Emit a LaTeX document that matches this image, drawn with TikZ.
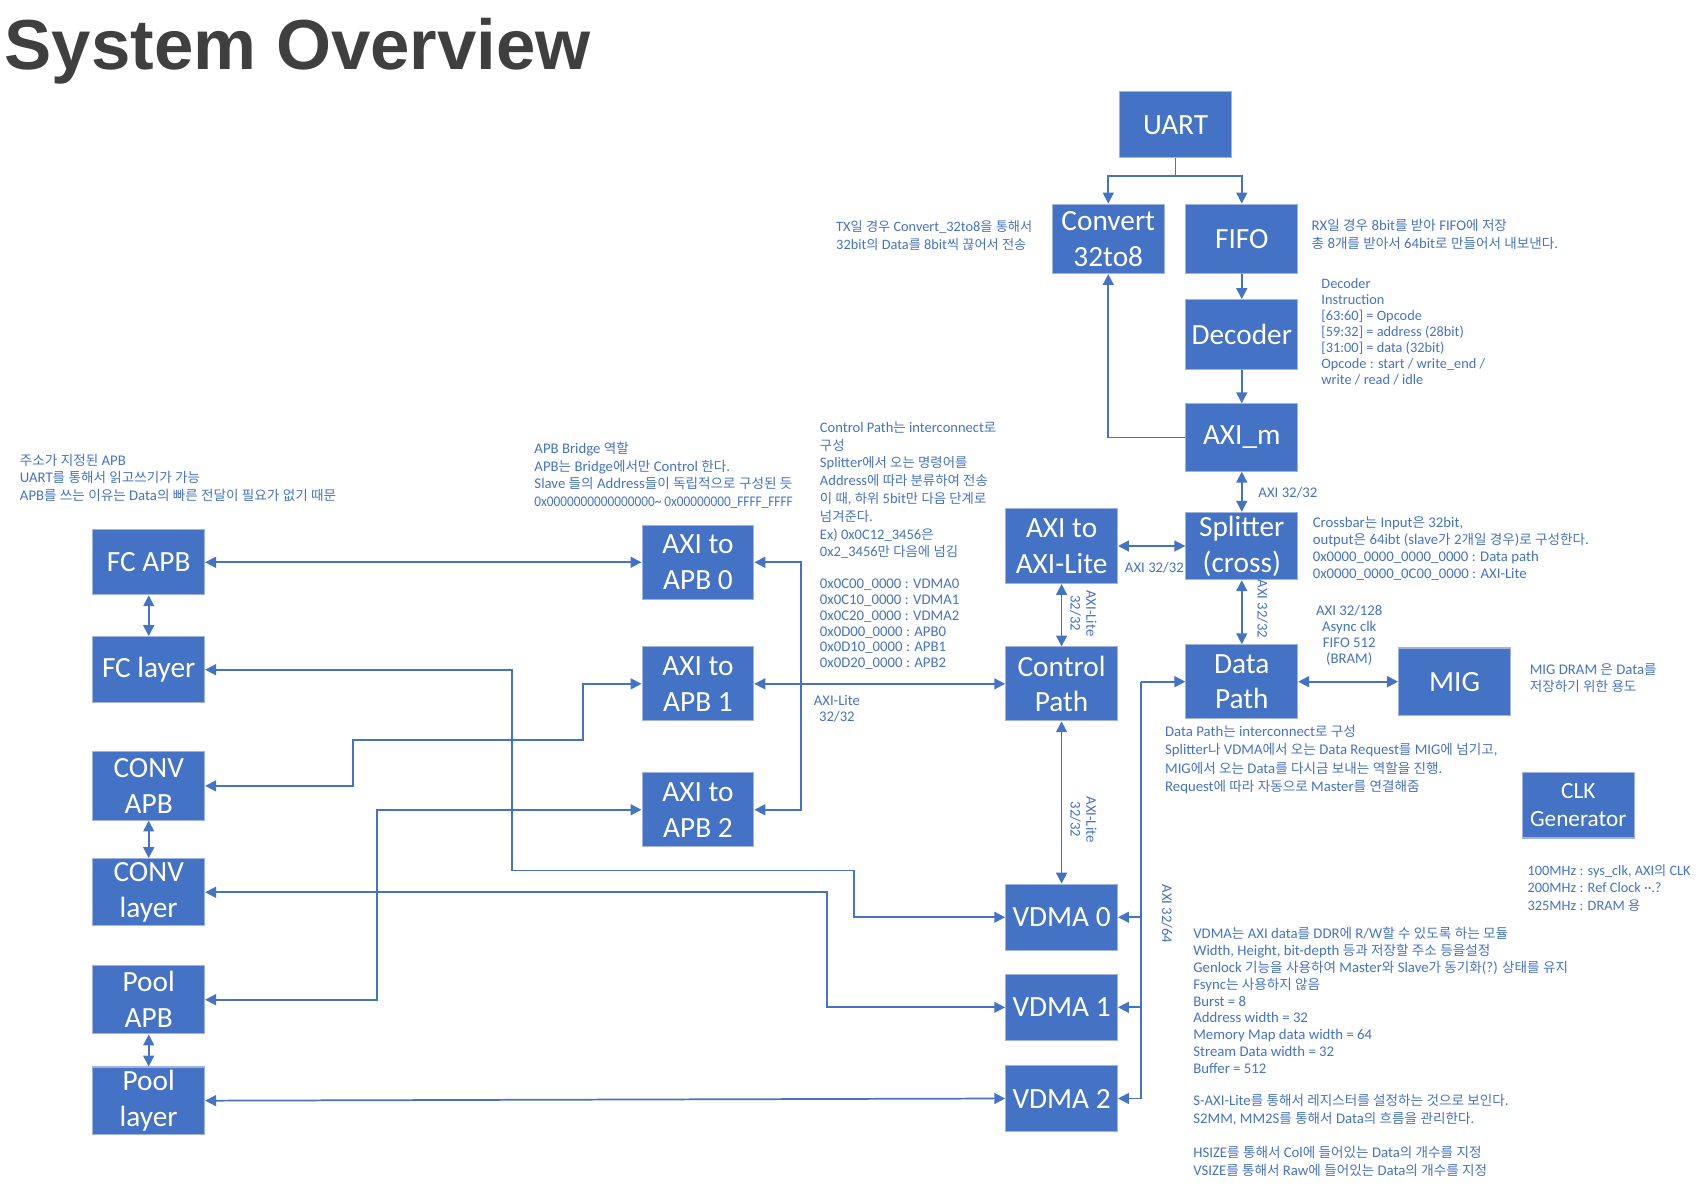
\documentclass[tikz,border=0pt]{standalone}
\usepackage{fontspec}
\setmainfont{Carlito}
\newfontfamily\kr[Scale=0.92]{Noto Sans CJK KR}
\newfontfamily\ttlfont{Liberation Sans}
\usetikzlibrary{arrows.meta}
\XeTeXinterchartokenstate=1
\newXeTeXintercharclass\HangulClass
\count255="AC00
\loop \XeTeXcharclass\count255=\HangulClass \ifnum\count255<"D7A3 \advance\count255 by 1 \repeat
\count255="3131
\loop \XeTeXcharclass\count255=\HangulClass \ifnum\count255<"318E \advance\count255 by 1 \repeat
\XeTeXinterchartoks 0 \HangulClass = {\begingroup\kr}
\XeTeXinterchartoks 4095 \HangulClass = {\begingroup\kr}
\XeTeXinterchartoks \HangulClass 0 = {\endgroup}
\XeTeXinterchartoks \HangulClass 4095 = {\endgroup}
\definecolor{ob}{HTML}{4472C4}
\definecolor{bd}{HTML}{9FB3DD}
\definecolor{ttl}{HTML}{3F3F3F}
\begin{document}
\begin{tikzpicture}[x=0.5pt,y=-0.5pt,
  blk/.style={fill=ob, draw=bd, line width=0.5pt, text=white,
    font=\fontsize{13.5}{16.5}\selectfont, align=center, inner sep=0pt,
    minimum width=51.5pt},
  conn/.style={draw=ob, line width=0.8pt},
  arr/.style={-{Triangle[width=5pt,length=5pt]}},
  darr/.style={{Triangle[width=5pt,length=5pt]}-{Triangle[width=5pt,length=5pt]}},
  note/.style={text=ob, font=\fontsize{6.8}{7.7}\selectfont, align=left,
    inner sep=0pt, anchor=north west},
  lbl/.style={text=ob, font=\fontsize{6.8}{7.3}\selectfont, align=center, inner sep=0pt}]
\useasboundingbox (0,0) rectangle (1568,1100);

\node[anchor=base west, inner sep=0pt, text=ttl, font=\ttlfont\bfseries\fontsize{32.6}{36}\selectfont] (title) at (4,64) {System Overview};

% blocks
\node[blk, minimum height=30.5pt] (uart) at (1083,115) {UART};
\node[blk, minimum height=32pt] (conv) at (1021,220) {Convert\\32to8};
\node[blk, minimum height=32pt] (fifo) at (1144,220) {FIFO};
\node[blk, minimum height=32pt] (dec) at (1144,308) {Decoder};
\node[blk, minimum height=31pt] (axim) at (1144,403) {AXI\_m};
\node[blk, minimum height=31pt] (spl) at (1144,503) {Splitter\\(cross)};
\node[blk, minimum height=34.5pt] (a2l) at (978,503) {AXI to\\AXI-Lite};
\node[blk, minimum height=34pt] (cp) at (978,630) {Control\\Path};
\node[blk, minimum height=34pt] (dp) at (1144,628) {Data\\Path};
\node[blk, minimum height=31pt] (mig) at (1340,628) {MIG};
\node[blk, minimum height=30pt, font=\fontsize{10.7}{13}\selectfont] (clk) at (1454,742) {CLK\\Generator};
\node[blk, minimum height=30.5pt] (v0) at (978,845) {VDMA 0};
\node[blk, minimum height=30.5pt] (v1) at (978,928) {VDMA 1};
\node[blk, minimum height=30.5pt] (v2) at (978,1012) {VDMA 2};
\node[blk, minimum height=34pt] (apb0) at (643,518) {AXI to\\APB 0};
\node[blk, minimum height=34pt] (apb1) at (643,630) {AXI to\\APB 1};
\node[blk, minimum height=34pt] (apb2) at (643,746) {AXI to\\APB 2};
\node[blk, minimum height=30pt] (fca) at (137,518) {FC APB};
\node[blk, minimum height=30.5pt] (fcl) at (137,617) {FC layer};
\node[blk, minimum height=31.5pt] (cva) at (137,724) {CONV\\APB};
\node[blk, minimum height=31pt] (cvl) at (137,822) {CONV\\layer};
\node[blk, minimum height=31.5pt] (pla) at (137,921) {Pool\\APB};
\node[blk, minimum height=31pt] (pll) at (137,1014) {Pool\\layer};

% connectors top
\coordinate (usplit) at (1083,162);
\draw[conn] (uart.south) -- (usplit);
\draw[conn,arr] (usplit) -| (conv.north);
\draw[conn,arr] (usplit) -| (fifo.north);
\draw[conn,arr] (fifo.south) -- (dec.north);
\draw[conn,arr] (dec.south) -- (axim.north);
\draw[conn,arr] (axim.west) -| (conv.south);
\draw[conn,darr] (axim.south) -- (spl.north);
\draw[conn,darr] (a2l.east) -- (spl.west);
\draw[conn,darr] (a2l.south) -- (cp.north);
\draw[conn,darr] (spl.south) -- (dp.north);
\draw[conn,darr] (dp.east) -- (mig.west);
\draw[conn,darr] (cp.south) -- (v0.north);

% APB bus
\coordinate (bus) at (738,630);
\draw[conn,darr] (apb1.east) -- (cp.west);
\draw[conn,arr] (bus) |- (apb0.east);
\draw[conn,arr] (bus) |- (apb2.east);

% left side
\draw[conn,darr] (fca.east) -- (apb0.west);
\draw[conn,darr] (fca.south) -- (fcl.north);
\draw[conn,darr] (cva.south) -- (cvl.north);
\draw[conn,darr] (pla.south) -- (pll.north);
\draw[conn,darr] (cva.east) -| (325,682) -| (537,630) -- (apb1.west);
\draw[conn,darr] (pla.east) -| (347,746) -- (apb2.west);
\draw[conn,darr] (fcl.east) -| (472,802) -| (787,845) -- (v0.west);
\draw[conn,darr] (cvl.east) -| (762,928) -- (v1.west);
\draw[conn,darr] (pll.east) -- (v2.west);

% VDMA bus to data path
\coordinate (vtop) at (1051,628);
\draw[conn,arr] (vtop) -- (dp.west);
\draw[conn,arr] (vtop) |- (v0.east);
\draw[conn,arr] (vtop) |- (v1.east);
\draw[conn,arr] (vtop) |- (v2.east);

% notes
\node[note, font=\fontsize{6.6}{8.4}\selectfont] (ntx) at (770,203) {TX일 경우 Convert\_32to8을 통해서\\32bit의 Data를 8bit씩 끊어서 전송};
\node[note, font=\fontsize{6.8}{8}\selectfont] (nrx) at (1208,202) {RX일 경우 8bit를 받아 FIFO에 저장\\총 8개를 받아서 64bit로 만들어서 내보낸다.};
\node[note, font=\fontsize{6.6}{7.35}\selectfont] (ndec) at (1217,256) {Decoder\\Instruction\\{}[63:60] = Opcode\\{}[59:32] = address (28bit)\\{}[31:00] = data (32bit)\\Opcode : start / write\_end /\\write / read / idle};
\node[note, font=\fontsize{6.8}{8}\selectfont] (napb) at (18,418) {주소가 지정된 APB\\UART를 통해서 읽고쓰기가 가능\\APB를 쓰는 이유는 Data의 빠른 전달이 필요가 없기 때문};
\node[note, font=\fontsize{6.8}{8.1}\selectfont] (nbr) at (492,407) {APB Bridge 역할\\APB는 Bridge에서만 Control 한다.\\Slave 들의 Address들이 독립적으로 구성된 듯\\\scalebox{0.9}[1]{0x0000000000000000\textasciitilde{} 0x00000000\_FFFF\_FFFF}};
\node[note, font=\fontsize{6.7}{8.2}\selectfont] (ncp) at (755,388) {Control Path는 interconnect로\\구성\\Splitter에서 오는 명령어를\\Address에 따라 분류하여 전송\\이 때, 하위 5bit만 다음 단계로\\넘겨준다.\\Ex) 0x0C12\_3456은\\0x2\_3456만 다음에 넘김};
\node[note, font=\fontsize{6.8}{7.3}\selectfont] (naddr) at (755,533) {0x0C00\_0000 : VDMA0\\0x0C10\_0000 : VDMA1\\0x0C20\_0000 : VDMA2\\0x0D00\_0000 : APB0\\0x0D10\_0000 : APB1\\0x0D20\_0000 : APB2};
\node[lbl] (lcp) at (771,653) {AXI-Lite\\32/32};
\node[lbl, anchor=west] (lsp) at (1159,454) {AXI 32/32};
\node[lbl, anchor=west] (la2l) at (1036,523) {AXI 32/32};
\node[lbl, rotate=-90] (lr1) at (998,565) {AXI-Lite\\32/32};
\node[lbl, rotate=-90] (lr2) at (1163,561) {AXI 32/32};
\node[lbl, rotate=-90] (lr3) at (998,755) {AXI-Lite\\32/32};
\node[lbl, rotate=-90] (lr4) at (1075,842) {AXI 32/64};
\node[note, font=\fontsize{6.8}{7.75}\selectfont] (ncb) at (1209,476) {Crossbar는 Input은 32bit,\\output은 64ibt (slave가 2개일 경우)로 구성한다.\\0x0000\_0000\_0000\_0000 : Data path\\0x0000\_0000\_0C00\_0000 : AXI-Lite};
\node[lbl, anchor=north, font=\fontsize{6.8}{7.35}\selectfont] (nmf) at (1243,557) {AXI 32/128\\Async clk\\FIFO 512\\(BRAM)};
\node[note, font=\fontsize{6.8}{8}\selectfont] (nmig) at (1409,611) {MIG DRAM 은 Data를\\저장하기 위한 용도};
\node[note, font=\fontsize{6.8}{8.35}\selectfont] (ndp) at (1073,668) {Data Path는 interconnect로 구성\\Splitter나 VDMA에서 오는 Data Request를 MIG에 넘기고,\\MIG에서 오는 Data를 다시금 보내는 역할을 진행.\\Request에 따라 자동으로 Master를 연결해줌};
\node[note, font=\fontsize{6.6}{8}\selectfont] (nclk) at (1407,796) {100MHz : sys\_clk, AXI의 CLK\\200MHz : Ref Clock ··.?\\325MHz : DRAM 용};
\node[note, font=\fontsize{6.8}{7.75}\selectfont] (nv) at (1099,854) {VDMA는 AXI data를 DDR에 R/W할 수 있도록 하는 모듈\\Width, Height, bit-depth 등과 저장할 주소 등을설정\\Genlock 기능을 사용하여 Master와 Slave가 동기화(?) 상태를 유지\\Fsync는 사용하지 않음\\Burst = 8\\Address width = 32\\Memory Map data width = 64\\Stream Data width = 32\\Buffer = 512};
\node[note, font=\fontsize{6.8}{8}\selectfont] (ns) at (1099,1008) {S-AXI-Lite를 통해서 레지스터를 설정하는 것으로 보인다.\\S2MM, MM2S를 통해서 Data의 흐름을 관리한다.\\[8pt]HSIZE를 통해서 Col에 들어있는 Data의 개수를 지정\\VSIZE를 통해서 Raw에 들어있는 Data의 개수를 지정};
\end{tikzpicture}
\end{document}
